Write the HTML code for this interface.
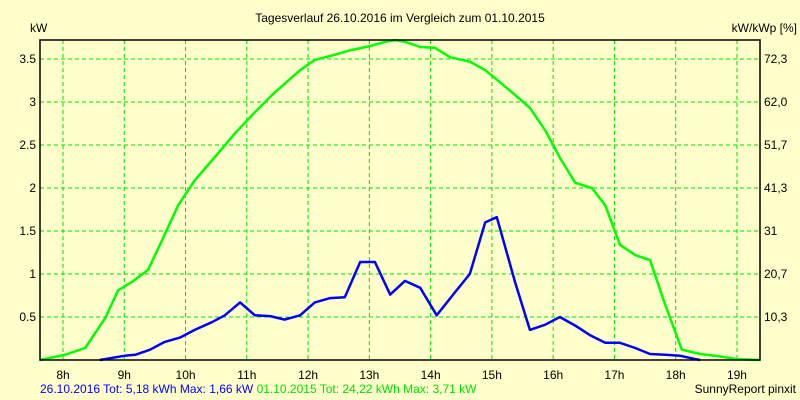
<!DOCTYPE html>
<html><head><meta charset="utf-8"><style>
body{margin:0;background:#ffffcc;}
svg{display:block;font-family:"Liberation Sans",sans-serif;font-size:12px;}
</style></head><body>
<svg id="chart" width="800" height="400" xmlns="http://www.w3.org/2000/svg">
<rect width="800" height="400" fill="#ffffcc"/>
<text x="400" y="22" text-anchor="middle">Tagesverlauf 26.10.2016 im Vergleich zum 01.10.2015</text>
<text x="30" y="32">kW</text>
<text x="797" y="32" text-anchor="end">kW/kWp [%]</text>
<g id="grid"></g><g id="series"></g><g id="axes"></g>
<text x="40" y="393" fill="#0000ff">26.10.2016 Tot: 5,18 kWh Max: 1,66 kW <tspan fill="#00e000">01.10.2015 Tot: 24,22 kWh Max: 3,71 kW</tspan></text>
<text x="796" y="393" text-anchor="end">SunnyReport pinxit</text>
</svg>
<script>
const hourTicks=[8,9,10,11,12,13,14,15,16,17,18,19];
const yTicks=[0.5,1,1.5,2,2.5,3,3.5];
const yTickLabels=["0.5","1","1.5","2","2.5","3","3.5"];
const rightTickLabels=["10,3","20,7","31","41,3","51,7","62,0","72,3"];
const greenHours=[7.62,8.03,8.36,8.69,8.9,9.13,9.39,9.62,9.88,10.15,10.48,10.81,11.13,11.41,11.74,11.87,12.11,12.44,12.68,13.01,13.26,13.42,13.58,13.83,14.07,14.32,14.64,14.89,15.13,15.38,15.62,15.87,16.11,16.36,16.63,16.85,17.09,17.34,17.58,17.83,18.1,18.4,18.64,19.0,19.38];
const greenValues=[0,0.06,0.14,0.49,0.81,0.91,1.05,1.4,1.8,2.09,2.36,2.64,2.88,3.08,3.29,3.37,3.49,3.55,3.6,3.65,3.7,3.72,3.7,3.64,3.63,3.52,3.47,3.37,3.23,3.08,2.93,2.67,2.35,2.06,2.0,1.8,1.34,1.22,1.16,0.64,0.12,0.07,0.05,0.01,0];
const blueHours=[8.6,9.01,9.18,9.42,9.66,9.91,10.15,10.43,10.64,10.89,11.13,11.38,11.62,11.87,12.11,12.36,12.6,12.85,13.09,13.34,13.58,13.83,14.1,14.4,14.64,14.89,15.08,15.38,15.62,15.87,16.11,16.36,16.6,16.85,17.09,17.34,17.58,17.83,18.07,18.32,18.4];
const blueValues=[0,0.05,0.06,0.12,0.21,0.26,0.35,0.44,0.52,0.67,0.52,0.51,0.47,0.52,0.67,0.72,0.73,1.14,1.14,0.76,0.92,0.84,0.52,0.79,1.0,1.6,1.66,0.9,0.35,0.41,0.5,0.4,0.29,0.2,0.2,0.14,0.07,0.06,0.05,0.01,0];
const L=40,R=760,T=40,B=360;
const xs=h=>63+(h-8)*61.27;
const ys=v=>B-v*86;
const NS="http://www.w3.org/2000/svg";
function mk(tag,parent,attrs){const e=document.createElementNS(NS,tag);for(const k in attrs)e.setAttribute(k,attrs[k]);parent.appendChild(e);return e;}
const grid=document.getElementById('grid'),axes=document.getElementById('axes'),ser=document.getElementById('series');
hourTicks.forEach(h=>{
 const l=mk('line',grid,{x1:xs(h),x2:xs(h),y1:T,y2:B,stroke:'#00e000','stroke-dasharray':'4,3'});
 
 
 const t=mk('text',axes,{x:xs(h),y:B+19,'text-anchor':'middle'});t.textContent=h+'h';
 
 
});
yTicks.forEach((v,i)=>{
 const l=mk('line',grid,{x1:L,x2:R,y1:ys(v),y2:ys(v),stroke:'#00e000','stroke-dasharray':'4,3'});
 
 
 const t=mk('text',axes,{x:L-4,y:ys(v)+4,'text-anchor':'end'});t.textContent=yTickLabels[i];
 
 
 const t2=mk('text',axes,{x:R+4,y:ys(v)+4});t2.textContent=rightTickLabels[i];
 
 
});
const fr=mk('path',axes,{d:`M${L},${T}H${R}V${B}H${L}Z`,fill:'none',stroke:'#000','stroke-width':1.5});


function line(hs,vs,col,name){
 const d=hs.map((h,i)=>(i?'L':'M')+xs(h).toFixed(1)+','+ys(vs[i]).toFixed(1)).join('');
 const p=mk('path',ser,{d:d,fill:'none',stroke:col,'stroke-width':2.5,'stroke-linejoin':'round'});
 
 
}
line(greenHours,greenValues,'#00ff00','series-2015-line');
line(blueHours,blueValues,'#0000ff','series-2016-line');
</script>
</body></html>
